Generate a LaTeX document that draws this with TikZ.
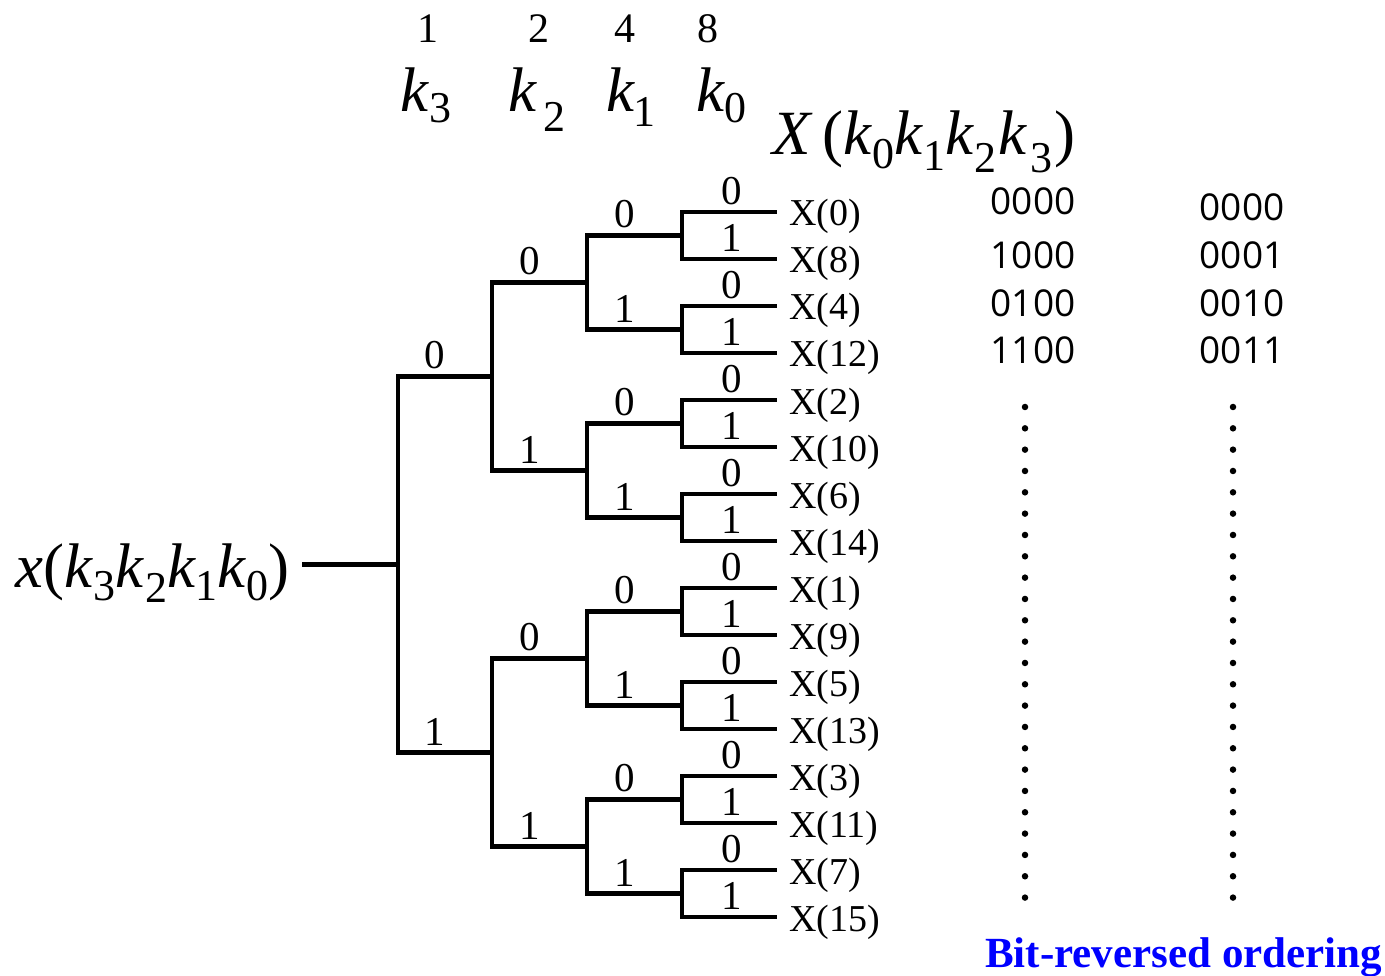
\documentclass[tikz,border=0pt]{standalone}
\usepackage{fontspec}
\setmainfont{Liberation Serif}
\newfontfamily\codefont{Open Sans}
% italic k and a lowered subscript digit
\newcommand\kk{\textit{k}}
\newcommand\sbs[2][13pt]{\raisebox{-#1}{\fontsize{44}{44}\selectfont #2}}
\tikzset{
  wire/.style={line width=4.3pt},
  bit/.style={inner sep=0pt, font=\fontsize{41}{41}\selectfont},
  leaflbl/.style={anchor=base west, inner sep=0pt, font=\fontsize{38}{38}\selectfont},
  weight/.style={inner sep=0pt, font=\fontsize{42}{42}\selectfont},
  mathlbl/.style={anchor=base west, inner sep=0pt, font=\fontsize{63}{63}\selectfont},
  code/.style={anchor=base, inner sep=0pt, font=\codefont\fontsize{37}{37}\selectfont},
  dotmark/.style={fill, circle, minimum size=6.5pt, inner sep=0pt},
  caption/.style={anchor=base west, inner sep=0pt, text=blue, font=\bfseries\fontsize{43}{43}\selectfont}
}
\begin{document}
\begin{tikzpicture}[x=1pt, y=-1pt]
\useasboundingbox (0,0) rectangle (1385,976);

% ---- header: weights and digit names ----
\node[weight] (w1) at (428,29) {1};
\node[weight] (w2) at (539,29) {2};
\node[weight] (w4) at (625,29) {4};
\node[weight] (w8) at (708,29) {8};
\node[mathlbl] (hk3) at (400,112) {\kk\sbs[11pt]{3}};
\node[mathlbl] (hk2) at (508,112) {\kk\hspace{6pt}\sbs[20pt]{2}};
\node[mathlbl] (hk1) at (606,112) {\kk\hspace{-2pt}\sbs[15pt]{1}};
\node[mathlbl] (hk0) at (696,112) {\kk\hspace{-1pt}\sbs[11pt]{0}};

% ---- output index ----
\node[mathlbl] (outidx) at (772,155)
  {\textit{X}\hspace{10pt}(\kk\sbs[14pt]{0}\kk\sbs[16pt]{1}\kk\sbs[18pt]{2}\hspace{2pt}\kk\hspace{3pt}\sbs[18pt]{3}\hspace{2pt})};

% ---- input index ----
\node[mathlbl] (inidx) at (15,587)
  {\textit{x}(\kk\sbs[13pt]{3}\kk\hspace{2pt}\sbs[15pt]{2}\kk\hspace{-1pt}\sbs[13pt]{1}\kk\sbs[13pt]{0})};

% ---- tree junctions ----
\coordinate (in) at (302,564.5);
\coordinate (r) at (398,564.5);
\foreach \n in {0,1} {
  \pgfmathsetmacro\y{376.5+376*\n}
  \coordinate (a\n) at (492,\y);
}
\foreach \m in {0,...,3} {
  \pgfmathsetmacro\y{282.5+188*\m}
  \coordinate (b\m) at (587,\y);
}
\foreach \j in {0,...,7} {
  \pgfmathsetmacro\y{235.5+94*\j}
  \coordinate (c\j) at (682,\y);
}
\foreach \i in {0,...,15} {
  \pgfmathsetmacro\y{212+47*\i}
  \coordinate (l\i) at (777,\y);
}

% ---- branches ----
\draw[wire] (in) -- (r);
\foreach \n in {0,1} {
  \draw[wire] (r) |- (a\n);
  \pgfmathsetmacro\y{376.5+376*\n-21}
  \node[bit] (ta\n) at (435,\y) {\n};
}
\foreach \m in {0,...,3} {
  \pgfmathtruncatemacro\p{int(\m/2)}
  \pgfmathtruncatemacro\b{mod(\m,2)}
  \draw[wire] (a\p) |- (b\m);
  \pgfmathsetmacro\y{282.5+188*\m-21}
  \node[bit] (tb\m) at (530,\y) {\b};
}
\foreach \j in {0,...,7} {
  \pgfmathtruncatemacro\p{int(\j/2)}
  \pgfmathtruncatemacro\b{mod(\j,2)}
  \draw[wire] (b\p) |- (c\j);
  \pgfmathsetmacro\y{235.5+94*\j-21}
  \node[bit] (tc\j) at (625,\y) {\b};
}
\foreach \i/\v in {0/0,1/8,2/4,3/12,4/2,5/10,6/6,7/14,8/1,9/9,10/5,11/13,12/3,13/11,14/7,15/15} {
  \pgfmathtruncatemacro\p{int(\i/2)}
  \pgfmathtruncatemacro\b{mod(\i,2)}
  \draw[wire] (c\p) |- (l\i);
  \pgfmathsetmacro\y{212+47*\i-21}
  \node[bit] (tl\i) at (732,\y) {\b};
  \pgfmathsetmacro\yy{212+47*\i+14}
  \node[leaflbl] (x\i) at (789,\yy) {X(\v)};
}

% ---- binary codes ----
\node[code] (p0) at (1033,215) {0000};
\node[code] (p1) at (1033,269) {1000};
\node[code] (p2) at (1033,317) {0100};
\node[code] (p3) at (1033,364) {1100};
\node[code] (q0) at (1242,221) {0000};
\node[code] (q1) at (1242,269) {0001};
\node[code] (q2) at (1242,317) {0010};
\node[code] (q3) at (1242,364) {0011};

% ---- continuation dots ----
\foreach \k in {0,...,23} {
  \pgfmathsetmacro\y{407+21.33*\k}
  \node[dotmark] (da\k) at (1025,\y) {};
  \node[dotmark] (db\k) at (1233,\y) {};
}

\node[caption] (cap) at (985,967) {Bit-reversed ordering};
\end{tikzpicture}
\end{document}
